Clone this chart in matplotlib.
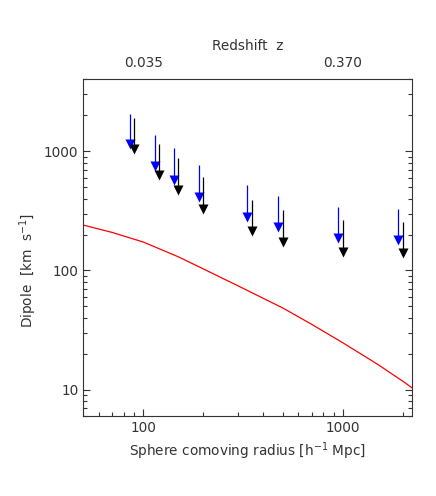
import matplotlib
matplotlib.use("Agg")
import matplotlib.pyplot as plt
from matplotlib.ticker import LogLocator, NullFormatter, FixedLocator
import numpy as np

plt.rcParams['font.family'] = ['DejaVu Sans']

# sphere radii (h^-1 Mpc)
radius = [90, 120, 150, 200, 350, 500, 1000, 2000]

# blue limits (plotted slightly left of the nominal radius)
blue_val = [1145, 752, 577, 415, 281, 232, 187, 180]
blue_top = [2066, 1361, 1053, 764, 519, 423, 342, 327]

# black limits
black_val = [1035, 628, 472, 330, 213, 174, 144, 139]
black_top = [1879, 1140, 869, 610, 389, 321, 265, 256]

# red model curve
curve_r = [50, 70, 100, 150, 200, 300, 500, 700, 1000, 1500, 2000, 2240]
curve_v = [240, 208, 173, 130, 103, 74, 48.5, 35.3, 24.8, 16.3, 11.8, 10.3]

# top axis: redshift labels
z_pos = [100, 1000]
z_lab = ["0.035", "0.370"]

txt = '#333333'
fs = 9.8

fig = plt.figure(figsize=(4.36, 4.96), dpi=100)
ax = fig.add_axes([0.191, 0.161, 0.755, 0.679])

ax.plot(curve_r, curve_v, color='red', lw=0.9)

rb = np.array(radius) * 0.95
ax.vlines(rb, blue_val, blue_top, color='blue', lw=0.9)
ax.plot(rb, blue_val, 'v', color='blue', ms=6.5, mec='none')
ax.vlines(radius, black_val, black_top, color='black', lw=0.9)
ax.plot(radius, black_val, 'v', color='black', ms=6.5, mec='none')

ax.set_xscale('log')
ax.set_yscale('log')
ax.set_xlim(50, 2240)
ax.set_ylim(6, 4000)

ax.xaxis.set_major_locator(FixedLocator([100, 1000]))
ax.set_xticklabels(['100', '1000'])
ax.xaxis.set_minor_locator(LogLocator(base=10, subs=np.arange(2, 10)))
ax.xaxis.set_minor_formatter(NullFormatter())
ax.yaxis.set_major_locator(FixedLocator([10, 100, 1000]))
ax.set_yticklabels(['10', '100', '1000'])
ax.yaxis.set_minor_locator(LogLocator(base=10, subs=np.arange(2, 10)))
ax.yaxis.set_minor_formatter(NullFormatter())

ax.tick_params(which='major', direction='in', length=5, width=0.8,
               top=True, right=True, labelsize=fs, colors=txt)
ax.tick_params(which='minor', direction='in', length=3, width=0.8,
               top=True, right=True, colors=txt)
for s in ax.spines.values():
    s.set_linewidth(0.8)
    s.set_color(txt)

ax.set_xlabel(r'Sphere comoving radius [h$^{-1}$ Mpc]', fontsize=fs,
              color=txt, labelpad=4)
ax.set_ylabel(r'Dipole  [km  s$^{-1}$]', fontsize=fs, color=txt)
ax.yaxis.set_label_coords(-0.135, 0.434)

top = ax.twiny()
top.set_xscale('log')
top.set_xlim(ax.get_xlim())
top.xaxis.set_major_locator(FixedLocator(z_pos))
top.set_xticklabels(z_lab)
top.xaxis.set_minor_locator(FixedLocator([]))
top.tick_params(which='major', direction='in', length=0, pad=7,
                labelsize=fs, colors=txt)
top.set_xlabel('Redshift  z', fontsize=fs, color=txt, labelpad=4)
for s in top.spines.values():
    s.set_visible(False)

fig.savefig('out.png', dpi=100)
